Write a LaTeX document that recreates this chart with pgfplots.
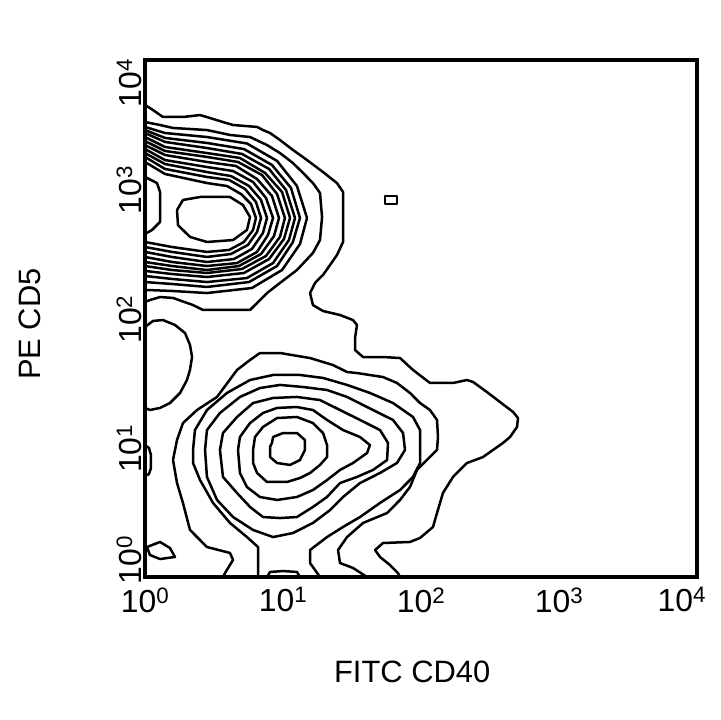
\documentclass[border=0pt]{standalone}
\usepackage{fontspec}
\setmainfont{Liberation Sans}
\usepackage{pgfplots}
\pgfplotsset{compat=1.18}
\tikzset{ct/.style={black, line width=2.5bp, line join=round, line cap=round, mark=none}}
\begin{document}
\begin{tikzpicture}
\begin{axis}[
  name=ax,
  scale only axis, width=552bp, height=517bp,
  xmin=0, xmax=4, ymin=0, ymax=4,
  xtick={0,1,2,3,4},
  xticklabels={10\textsuperscript{0},10\textsuperscript{1},10\textsuperscript{2},10\textsuperscript{3},\makebox[0pt][r]{10\textsuperscript{4}\hspace{-9bp}}},
  ytick={0,1,2,3,4},
  yticklabels={\makebox[0pt][l]{\hspace{-6bp}10\textsuperscript{0}},10\textsuperscript{1},10\textsuperscript{2},10\textsuperscript{3},\makebox[0pt][r]{10\textsuperscript{4}\hspace{-2bp}}},
  major tick length=0pt,
  tick label style={font=\fontsize{32}{32}\selectfont},
  yticklabel style={rotate=90, anchor=south, xshift=-1bp},
  xticklabel style={anchor=north, yshift=-7bp},
  label style={font=\fontsize{31}{36}\selectfont},
  xlabel={FITC CD40}, ylabel={PE CD5},
  xlabel style={at={(axis description cs:0.484,-0.184)}, anchor=center},
  ylabel style={at={(axis description cs:-0.208,0.489)}, anchor=center},
  axis line style={line width=3.6bp},
]
% outer level (both populations)
\addplot[ct] coordinates {(0,3.652)(0.058,3.613)(0.130,3.559)(0.275,3.559)(0.399,3.574)(0.471,3.551)(0.565,3.520)(0.638,3.497)(0.812,3.482)(0.855,3.458)(0.906,3.435)(0.978,3.381)(1.072,3.304)(1.174,3.226)(1.290,3.133)(1.391,3.048)(1.435,2.979)(1.435,2.592)(1.391,2.491)(1.341,2.414)(1.290,2.337)(1.232,2.275)(1.196,2.197)(1.217,2.104)(1.290,2.058)(1.413,2.027)(1.507,1.988)(1.536,1.950)(1.522,1.849)(1.522,1.756)(1.580,1.702)(1.725,1.702)(1.848,1.694)(1.942,1.602)(2.065,1.501)(2.232,1.501)(2.333,1.524)(2.377,1.509)(2.478,1.431)(2.572,1.354)(2.667,1.277)(2.703,1.230)(2.696,1.161)(2.645,1.083)(2.594,1.037)(2.522,0.983)(2.449,0.928)(2.333,0.882)(2.232,0.774)(2.159,0.650)(2.116,0.495)(2.087,0.387)(1.993,0.302)(1.920,0.271)(1.725,0.263)(1.667,0.209)(1.703,0.155)(1.775,0.093)(1.833,0.031)(1.848,0)};
\addplot[ct] coordinates {(1.739,2.948)(1.826,2.948)(1.826,2.886)(1.739,2.886)(1.739,2.948)};
\addplot[ct] coordinates {(0,1.934)(0.058,1.981)(0.130,1.988)(0.217,1.950)(0.290,1.888)(0.326,1.795)(0.341,1.702)(0.326,1.602)(0.304,1.524)(0.254,1.424)(0.181,1.346)(0.109,1.308)(0.036,1.292)(0,1.308)};
\addplot[ct] coordinates {(0,1.021)(0.029,0.998)(0.043,0.944)(0.043,0.843)(0.029,0.797)(0,0.781)};
\addplot[ct] coordinates {(0.014,0.232)(0.109,0.271)(0.181,0.224)(0.217,0.155)(0.109,0.139)(0.036,0.170)(0.014,0.232)};
% upper population (PE CD5 high)
\addplot[ct] coordinates {(0,3.520)(0.109,3.497)(0.203,3.474)(0.449,3.458)(0.616,3.420)(0.761,3.404)(0.884,3.342)(0.978,3.280)(1.072,3.203)(1.145,3.126)(1.217,3.048)(1.268,2.971)(1.283,2.785)(1.268,2.607)(1.217,2.507)(1.101,2.375)(0.978,2.275)(0.884,2.197)(0.812,2.120)(0.761,2.066)(0.420,2.066)(0.348,2.104)(0.203,2.159)(0.109,2.166)(0.036,2.143)(0,2.128)};
\addplot[ct] coordinates {(0,3.482)(0.145,3.435)(0.449,3.404)(0.739,3.354)(0.957,3.219)(1.101,3.025)(1.174,2.778)(1.123,2.576)(0.993,2.375)(0.775,2.236)(0.449,2.197)(0.196,2.213)(0,2.221)};
\addplot[ct] coordinates {(0,3.458)(0.145,3.397)(0.449,3.358)(0.717,3.311)(0.920,3.188)(1.058,3.010)(1.123,2.778)(1.072,2.592)(0.957,2.406)(0.754,2.282)(0.449,2.244)(0.196,2.267)(0,2.282)};
\addplot[ct] coordinates {(0,3.435)(0.145,3.366)(0.449,3.319)(0.703,3.273)(0.899,3.157)(1.022,2.994)(1.087,2.778)(1.043,2.607)(0.928,2.429)(0.739,2.313)(0.449,2.282)(0.196,2.306)(0,2.329)};
\addplot[ct] coordinates {(0,3.404)(0.145,3.327)(0.449,3.280)(0.688,3.242)(0.870,3.126)(0.993,2.979)(1.051,2.778)(1.007,2.615)(0.899,2.460)(0.717,2.352)(0.449,2.321)(0.196,2.344)(0,2.368)};
\addplot[ct] coordinates {(0,3.373)(0.145,3.296)(0.449,3.250)(0.674,3.211)(0.848,3.110)(0.957,2.963)(1.014,2.778)(0.978,2.631)(0.877,2.484)(0.703,2.383)(0.449,2.352)(0.196,2.375)(0,2.406)};
\addplot[ct] coordinates {(0,3.342)(0.145,3.265)(0.449,3.211)(0.659,3.180)(0.812,3.079)(0.920,2.948)(0.971,2.778)(0.935,2.638)(0.841,2.499)(0.681,2.406)(0.449,2.375)(0.196,2.406)(0,2.437)};
\addplot[ct] coordinates {(0,3.311)(0.145,3.226)(0.449,3.172)(0.638,3.141)(0.783,3.056)(0.877,2.932)(0.928,2.778)(0.891,2.646)(0.812,2.515)(0.667,2.429)(0.449,2.406)(0.196,2.437)(0,2.476)};
\addplot[ct] coordinates {(0,3.280)(0.145,3.195)(0.449,3.133)(0.623,3.102)(0.754,3.025)(0.841,2.917)(0.884,2.778)(0.855,2.662)(0.775,2.538)(0.645,2.460)(0.449,2.437)(0.196,2.476)(0,2.515)};
\addplot[ct] coordinates {(0,3.250)(0.145,3.157)(0.449,3.095)(0.609,3.072)(0.725,3.002)(0.804,2.901)(0.841,2.778)(0.812,2.669)(0.746,2.569)(0.623,2.499)(0.449,2.476)(0.196,2.515)(0,2.553)};
\addplot[ct] coordinates {(0,3.211)(0.145,3.118)(0.449,3.048)(0.594,3.025)(0.696,2.963)(0.768,2.886)(0.804,2.778)(0.783,2.685)(0.717,2.592)(0.609,2.530)(0.449,2.515)(0.196,2.553)(0,2.592)};
\addplot[ct] coordinates {(0,3.095)(0.087,3.048)(0.109,2.979)(0.109,2.747)(0.051,2.685)(0,2.654)};
\addplot[ct] coordinates {(0.232,2.839)(0.275,2.917)(0.399,2.940)(0.616,2.940)(0.710,2.878)(0.761,2.785)(0.739,2.685)(0.638,2.607)(0.449,2.592)(0.326,2.631)(0.239,2.723)(0.232,2.839)};
% lower population (PE CD5 low)
\addplot[ct] coordinates {(0.565,0)(0.580,0.031)(0.638,0.132)(0.616,0.186)(0.449,0.232)(0.326,0.364)(0.275,0.573)(0.232,0.727)(0.203,0.905)(0.232,1.060)(0.275,1.191)(0.377,1.292)(0.522,1.393)(0.667,1.602)(0.761,1.679)(0.833,1.733)(0.978,1.733)(1.196,1.694)(1.362,1.640)(1.464,1.586)(1.536,1.578)(1.725,1.547)(1.826,1.501)(1.920,1.424)(1.993,1.346)(2.065,1.292)(2.116,1.215)(2.123,1.083)(2.116,0.983)(2.043,0.905)(1.971,0.828)(1.920,0.696)(1.848,0.596)(1.754,0.495)(1.580,0.418)(1.464,0.309)(1.399,0.209)(1.413,0.108)(1.507,0.070)(1.609,0)};
\addplot[ct] coordinates {(0.819,0)(0.819,0.232)(0.739,0.309)(0.616,0.418)(0.493,0.573)(0.399,0.750)(0.348,0.882)(0.348,0.983)(0.362,1.137)(0.449,1.292)(0.594,1.424)(0.761,1.524)(0.928,1.563)(1.123,1.563)(1.290,1.540)(1.464,1.486)(1.630,1.424)(1.797,1.346)(1.942,1.238)(1.993,1.137)(1.993,0.882)(1.942,0.774)(1.848,0.673)(1.703,0.573)(1.558,0.464)(1.435,0.387)(1.319,0.309)(1.196,0.209)(1.196,0.108)(1.268,0)};
\addplot[ct] coordinates {(0.884,0)(0.906,0.039)(1.000,0.046)(1.101,0.039)(1.123,0)};
\addplot[ct] coordinates {(0.435,0.983)(0.449,1.137)(0.543,1.269)(0.688,1.393)(0.833,1.462)(0.978,1.486)(1.145,1.470)(1.319,1.447)(1.464,1.393)(1.652,1.292)(1.797,1.215)(1.870,1.114)(1.884,0.983)(1.826,0.882)(1.703,0.805)(1.558,0.727)(1.435,0.619)(1.341,0.518)(1.217,0.418)(1.072,0.340)(0.928,0.309)(0.783,0.364)(0.638,0.464)(0.522,0.596)(0.449,0.774)(0.435,0.983)};
\addplot[ct] coordinates {(0.543,0.983)(0.565,1.114)(0.667,1.238)(0.783,1.346)(0.928,1.385)(1.101,1.393)(1.268,1.369)(1.413,1.292)(1.558,1.215)(1.703,1.137)(1.761,1.037)(1.754,0.905)(1.652,0.828)(1.536,0.774)(1.413,0.727)(1.319,0.619)(1.217,0.542)(1.101,0.464)(0.978,0.456)(0.855,0.464)(0.761,0.542)(0.667,0.650)(0.565,0.774)(0.543,0.983)};
\addplot[ct] coordinates {(0.674,0.983)(0.688,1.083)(0.761,1.191)(0.855,1.269)(0.957,1.308)(1.101,1.315)(1.217,1.292)(1.319,1.215)(1.435,1.137)(1.558,1.083)(1.630,1.021)(1.609,0.959)(1.507,0.882)(1.413,0.828)(1.319,0.750)(1.217,0.673)(1.101,0.619)(0.957,0.596)(0.833,0.619)(0.739,0.696)(0.688,0.805)(0.674,0.983)};
\addplot[ct] coordinates {(0.783,0.983)(0.797,1.083)(0.855,1.161)(0.957,1.230)(1.101,1.238)(1.217,1.191)(1.290,1.114)(1.319,1.021)(1.319,0.928)(1.268,0.867)(1.196,0.805)(1.123,0.766)(1.029,0.735)(0.884,0.735)(0.812,0.805)(0.783,0.882)(0.783,0.983)};
\addplot[ct] coordinates {(0.920,1.037)(0.928,1.083)(1.000,1.114)(1.101,1.114)(1.159,1.060)(1.159,0.983)(1.123,0.905)(1.051,0.867)(0.957,0.882)(0.906,0.928)(0.906,1.006)(0.920,1.037)};
\end{axis}
\path ([xshift=-145bp,yshift=-143bp]ax.south west) rectangle ([xshift=23bp,yshift=60bp]ax.north east);
\end{tikzpicture}
\end{document}
